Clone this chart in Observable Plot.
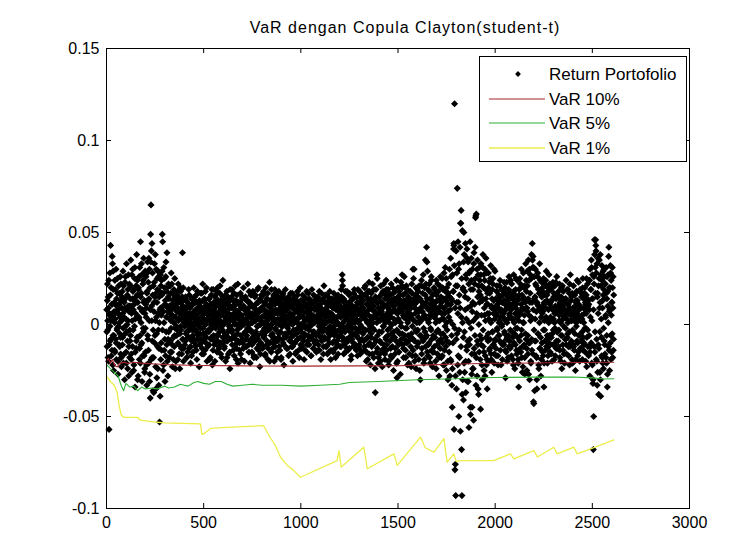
<!DOCTYPE html>
<html>
<head>
<meta charset="utf-8">
<script src="https://cdn.jsdelivr.net/npm/d3@7"></script>
<script src="https://cdn.jsdelivr.net/npm/@observablehq/plot@0.6"></script>
<style>
  body { margin: 0; background: #fff; font-family: "Liberation Sans", Arial, sans-serif; }
  #wrap { position: relative; width: 756px; height: 540px; overflow: hidden; background: #fff; }
  #title { position: absolute; left: 0; top: 19px; width: 810px; text-align: center; font-size: 16px; letter-spacing: 1px; color: #000; line-height: 18px; }
  #legend { position: absolute; left: 479px; top: 56px; width: 206px; height: 104px; border: 1px solid #000; background: #fff; }
  #chart { position: absolute; left: 0; top: 0; }
</style>
</head>
<body>
<div id="wrap">
  <div id="chart"></div>
  <div id="title"></div>
  <div id="legend"></div>
</div>
<script>
// ---- data ----
const titleText = "VaR dengan Copula Clayton(student-t)";
const seriesNames = ["Return Portofolio", "VaR 10%", "VaR 5%", "VaR 1%"];
const seriesColors = ["#000000", "#a3262b", "#2fae37", "#eded4a"];

// portfolio returns in thousandths: odd observations 1,3,5,...
const returnMilliOdd = [
8,-12,22,-3,15,-20,-57,5,28,-9,43,2,-17,11,37,33,-6,19,-25,7,
-14,24,3,-8,30,-19,10,-2,17,-27,6,21,-11,1,-5,26,-16,13,-23,9,
18,-7,29,-21,4,12,-30,23,-1,8,-15,33,-4,16,-24,2,27,-12,10,-18,
-9,21,35,-16,6,-26,14,30,-3,19,-22,11,25,-34,3,15,-13,38,-7,24,
12,-28,20,4,-19,31,-6,45,-11,17,27,-31,8,22,-2,36,-17,13,-24,29,
-15,26,9,-33,18,34,-8,23,-21,14,30,-27,-40,49,65,40,2,-18,28,-36,
21,-37,12,33,-6,38,-23,17,4,-29,25,-12,29,-3,-33,15,-53,8,27,-19,
-10,24,16,49,45,-25,7,31,-14,20,-31,11,26,-4,18,39,-20,9,-8,22,
14,-18,6,21,-9,2,28,-15,11,-23,17,4,-7,19,-12,25,-2,8,-20,13,
-6,16,9,-19,22,3,-11,14,-24,7,18,-3,12,-16,5,39,-8,20,-13,1,
7,-11,3,15,-5,9,-18,2,12,-7,0,19,-13,6,-2,10,-21,4,14,-9,
-3,11,-15,5,20,-8,1,13,-12,8,-4,16,-19,3,9,-6,12,-1,-23,7,
10,-2,17,-10,4,-16,8,22,-5,1,13,-9,6,-14,18,0,-7,11,-20,3,
-12,5,9,-4,14,-19,2,7,-8,16,-1,11,-22,4,19,-6,8,-11,1,15,
6,-9,12,0,-15,20,3,-6,10,-13,7,17,-2,-10,5,13,-18,9,-3,24,
-7,14,1,-12,8,4,-20,11,-5,18,2,-9,15,-16,6,-1,10,-24,13,3,
9,-4,19,-11,2,-7,13,6,-17,10,0,21,-8,4,-13,16,-3,7,-21,12,
-2,11,-14,5,17,-6,1,-19,9,14,-10,3,20,-5,8,-12,2,15,-8,6,
13,-8,4,22,-3,9,-15,0,12,-21,6,16,-4,10,-11,1,18,-7,5,-17,
-5,15,-9,2,11,-18,7,-1,19,-6,12,-14,3,8,-23,14,0,-10,16,4,
8,-13,1,16,-7,5,-2,12,-16,20,-4,7,-11,14,2,-19,10,-3,6,23,
-10,4,13,-6,19,0,-13,8,3,-8,15,-20,6,11,-2,17,-9,1,12,-15,
3,12,-7,18,-12,6,9,-4,14,-18,2,10,-1,16,-10,5,-22,11,7,-5,
19,-6,8,-13,3,14,-2,10,-17,5,12,-9,1,17,-7,4,-12,9,0,-20,
11,-3,6,15,-10,2,-16,8,13,-5,1,18,-8,7,-14,10,-1,4,20,-11,
-4,9,-13,5,16,-7,0,12,-19,3,10,-6,14,-2,7,-15,11,-9,2,17,
6,-11,3,13,-1,8,-17,5,19,-8,2,-4,12,-13,9,1,-10,15,-6,4,
-9,14,2,-5,10,-14,7,18,-3,0,11,-19,5,8,-7,13,-2,6,-12,21,
1,-8,16,4,-12,9,-3,12,-16,7,15,-5,2,-10,18,-1,6,-14,10,-4,
12,-2,5,-15,9,1,-9,14,3,-18,8,11,-6,4,-11,16,0,-7,13,-3,
-6,10,4,-12,15,-1,27,21,-9,7,-16,12,2,-4,18,-10,6,9,-13,3,
8,-14,11,0,-7,17,-3,5,-19,13,1,-8,10,-2,14,-12,4,19,-5,7,
-11,3,15,-6,9,-17,2,12,-4,6,-13,18,0,-9,11,5,-15,8,16,-2,
13,-9,4,20,-14,7,-3,16,-20,2,11,-7,18,-11,5,23,-16,9,-1,14,
-5,17,-12,8,22,-2,10,-18,4,14,-8,-37,6,19,-15,1,25,-6,12,-21,
9,-4,15,-16,3,21,-10,7,12,-23,5,18,-1,-13,10,2,-19,16,-7,24,
-14,6,11,-3,19,-20,8,1,15,-9,4,-17,22,-5,13,-12,7,17,-25,3,
10,-7,18,-13,2,14,-21,-29,6,20,-4,11,-15,8,16,-10,1,23,-8,12,
27,20,-11,5,-18,13,9,-6,17,-14,3,21,-2,10,-22,7,15,-9,4,-16,
6,18,-12,11,-5,22,-17,3,30,-8,14,30,-20,9,16,-3,-24,12,1,19,
-10,15,4,-19,21,8,-6,-30,13,2,24,-13,7,17,-9,11,-21,5,20,-4,
35,-7,12,42,34,-15,9,19,-11,3,22,-18,14,-2,8,26,-14,6,-23,16,
-6,11,20,-12,4,17,-20,9,24,-4,13,-16,2,18,-9,-28,7,21,-13,10,
15,-18,6,25,-10,19,-22,3,28,-14,9,31,-7,13,-25,20,-3,11,-30,17,
22,-15,30,-28,8,36,-20,14,-33,-45,27,-10,18,44,-57,120,-79,-76,-93,40,
-35,28,74,-22,45,12,-50,33,-18,42,-58,55,62,-68,-93,51,-30,20,-41,50,
38,-26,15,44,-37,25,-12,41,-31,9,34,-20,-56,28,-8,45,-49,19,36,-27,
-45,30,12,-24,-52,39,-16,22,42,58,-33,60,6,-28,35,-11,27,-38,18,31,
24,-19,-46,33,-8,21,-30,14,38,-12,27,-25,5,30,-17,19,36,-22,11,-35,
17,-9,28,-20,6,23,-13,2,32,-16,10,-26,19,-4,25,-11,13,-21,8,29,
-8,14,-17,5,21,-3,11,-22,9,16,-6,2,24,-14,7,-10,19,0,-19,12,
4,18,-11,13,-5,20,-29,8,-15,23,1,-7,15,-18,10,26,-9,6,-13,17,
-12,9,22,-4,15,-19,3,27,-10,12,-24,6,19,-2,11,-16,24,-7,14,-21,
-34,16,5,25,-13,20,-6,30,-18,9,14,-23,28,1,-11,21,-27,12,33,-8,
18,-25,29,7,-16,35,-10,24,-30,12,27,-20,4,38,-14,44,31,37,-42,-43,
26,-36,15,30,-9,21,-18,-35,11,28,-5,19,-24,8,33,-13,17,-28,4,23,
-10,20,7,-17,25,-34,12,-3,22,-14,9,29,-8,16,-21,3,18,-12,27,-6,
11,-15,4,19,-7,13,-20,8,23,-3,15,-11,1,21,-17,6,14,-9,26,-13,
-4,16,-12,9,2,22,-18,7,13,-6,20,-24,10,5,-14,18,-1,12,-21,8,
14,-8,24,-16,3,11,-5,19,-12,6,17,-22,9,27,-10,2,15,-19,7,-3,
-11,21,5,-14,16,8,-25,12,1,18,-9,13,-17,4,23,-6,10,-20,19,2,
9,-13,17,3,-19,25,-7,14,-10,6,20,-15,11,-2,16,-23,8,22,-12,13,
-17,24,8,-28,30,-12,19,35,-21,14,27,-32,-68,-50,22,46,-15,31,46,40,
28,-20,-33,17,36,-11,-38,25,9,-26,38,-39,21,-7,32,-18,13,29,-24,19,
-9,26,-16,22,5,31,-21,14,-34,18,27,-12,42,7,-25,20,32,-6,24,-15,
12,31,-18,26,-8
];

// portfolio returns in thousandths: even observations 2,4,6,...
const returnMilliEven = [
-4,13,2,-18,9,24,-11,6,-1,16,-8,20,3,-14,11,-22,29,5,-6,12,
1,-15,19,7,-10,14,-3,25,-20,8,-1,11,17,-12,4,-7,22,-18,2,15,
-11,6,-2,21,13,-16,9,-5,26,3,-21,15,0,-9,19,10,-28,7,22,-3,
14,-6,10,-19,27,2,-12,18,8,-25,13,-1,31,-15,6,21,-9,4,16,-30,
-7,19,3,26,-13,9,-21,15,1,33,-10,7,-17,24,-4,12,28,-26,6,-2,
11,4,-22,17,28,-6,13,-14,36,2,-31,20,8,34,-19,10,44,-9,16,-3,
-18,7,23,-10,15,2,-35,30,-5,12,19,-24,6,26,-13,1,18,-39,9,21,
5,-14,29,-3,17,10,-22,1,25,-8,13,-17,34,4,-11,20,7,-28,15,-4,
-9,10,3,-15,17,-2,8,22,-11,5,13,-19,1,9,-6,15,-24,4,11,-1,
7,-3,18,-10,2,12,-16,6,-5,20,-1,9,-13,3,15,-8,10,-20,5,14,
-1,8,-9,4,13,-4,0,10,-15,6,2,-7,16,-3,9,-12,5,1,-17,11,
4,-6,11,-1,7,15,-10,3,-3,12,-14,5,0,18,-8,2,-5,9,13,-11,
-5,12,1,-8,17,-13,6,-2,9,-16,3,14,-6,0,10,-10,20,-4,7,2,
9,-3,14,-11,2,6,-18,11,0,-7,19,-2,8,-14,5,12,-9,3,-20,16,
-2,10,-6,5,18,-9,1,13,-12,7,-4,21,2,-16,11,-1,6,-10,15,-7,
11,0,-13,8,-5,16,3,-9,12,-18,6,1,-7,14,-3,9,-15,19,-1,4,
-8,15,5,-3,10,-14,2,17,-6,8,-11,4,13,-19,0,7,-5,22,-9,3,
6,-10,1,12,-16,9,-1,5,15,-8,3,-13,10,0,-20,14,-4,8,2,-12,
-6,13,-2,7,0,-11,18,4,-9,11,-3,1,16,-15,6,-7,10,3,-18,9,
2,-9,16,-4,8,5,-13,12,-1,-8,20,3,-11,7,0,-16,13,9,-5,1,
-4,9,-12,18,1,-6,11,-17,4,7,-2,14,-9,0,17,-13,5,-1,10,-20,
7,-2,10,-15,4,12,-5,1,-10,16,-7,3,19,-12,8,-3,13,-18,2,6,
-9,15,0,-5,11,-14,7,3,-19,12,-1,8,-8,17,4,-11,1,14,-6,9,
3,-7,12,-1,8,-13,5,15,-4,0,10,-16,6,-9,13,2,-5,17,-12,4,
-6,11,1,-10,14,-3,7,-15,2,9,-8,16,-2,4,11,-18,6,0,-7,13,
8,-2,-12,6,13,1,-9,10,-5,15,-14,3,7,-1,18,-11,4,9,-6,-1,
-3,14,-8,2,9,-17,11,0,-6,12,5,-13,16,-4,1,8,-10,13,3,-15,
10,-5,4,15,-11,6,-1,-14,12,3,-7,9,17,-9,2,-4,14,-16,7,0,
-7,12,-3,8,1,-12,16,5,-8,10,-2,-15,13,4,-6,11,-19,6,2,14,
4,-10,9,-2,17,-6,3,-13,11,0,-4,15,-9,8,1,-16,12,-3,7,10,
-12,6,13,19,-4,9,24,-7,1,14,-11,5,-2,10,-15,3,12,-8,18,-1,
5,-9,2,16,-13,7,-4,11,0,-17,9,14,-6,3,-10,17,6,-12,1,8,
-2,10,-14,5,12,-7,19,-3,8,-11,2,15,-16,6,-1,9,-8,13,4,-5,
9,-4,16,-12,3,21,-8,6,-15,11,1,-19,14,-3,8,18,-10,2,-22,12,
-7,13,4,-16,10,1,-11,19,-3,7,-24,15,5,-9,12,27,-13,3,9,-18,
6,15,-9,2,-20,12,8,-4,17,-14,10,-1,22,-11,4,-16,14,1,-8,19,
-11,3,18,-6,9,-22,13,5,-2,16,-13,7,11,-18,0,20,-7,10,-4,14,
8,-16,1,12,-9,24,-3,6,-20,15,3,-11,18,-5,9,-27,13,-1,7,21,
-5,11,16,-13,4,26,-8,10,-2,-18,13,6,-10,19,1,-6,12,-21,8,3,
14,-7,9,-23,5,17,-1,12,-14,25,2,-9,11,6,-17,20,-4,8,-12,15,
-3,18,-10,7,1,-25,14,9,-6,21,-16,3,12,-8,27,-2,10,-19,5,16,
-12,22,3,-6,14,29,-17,8,1,-10,18,5,-21,11,-3,24,-8,13,-15,7,
10,-15,4,19,-7,12,1,-24,16,6,-11,22,-3,9,-18,13,2,-9,26,-5,
-8,12,3,-17,20,-5,9,14,-22,6,-1,18,-12,25,1,-9,15,-20,7,11,
4,-10,15,2,-19,11,26,-6,13,-24,0,18,41,43,32,-2,9,-28,21,-8,
12,-5,21,6,-17,30,-3,16,-26,9,55,-12,4,25,-38,1,19,-7,34,-21,
-4,18,8,-20,27,3,-14,36,-9,14,-31,22,1,-11,29,-45,10,-2,24,-16,
7,-24,19,2,33,-13,11,-6,25,59,-18,4,30,-9,15,-35,21,0,-15,12,
-6,16,27,-11,5,-22,13,31,-3,20,-15,9,24,-28,2,14,-7,28,-19,6,
11,-5,20,3,-14,17,-8,25,1,-19,9,14,-4,22,-11,6,30,-16,3,-9,
5,-13,10,18,-2,7,-17,13,-6,1,21,-9,4,15,-22,8,-1,12,-11,16,
-10,6,23,-4,11,-14,2,17,-8,9,-20,13,3,-6,19,-12,5,11,-3,24,
8,-17,3,14,-7,10,-22,18,1,-5,16,-11,9,25,-14,4,-2,13,-19,7,
2,19,-9,6,22,-15,11,-3,16,-26,8,1,-12,20,5,-18,14,-5,9,24,
-13,9,21,-6,14,-27,5,30,-10,17,2,-21,25,-8,12,35,-16,8,31,-3,
14,-9,3,22,-17,7,-30,12,26,-5,10,-22,17,1,-13,24,-7,9,-19,15,
6,-15,18,-3,11,-21,2,16,-9,24,4,-12,13,-6,20,-17,8,1,-10,22,
-7,12,2,-16,9,20,-5,14,-11,3,17,-19,6,-2,10,23,-13,7,-4,16,
10,-9,18,-3,5,-14,12,1,-20,15,7,-6,21,-11,3,9,-16,13,4,-8,
-2,14,-11,6,19,-7,1,11,-17,8,-4,22,-12,5,13,-9,2,17,-21,9,
7,-12,3,16,-5,10,-19,13,-1,6,24,-10,2,-15,11,8,-6,18,-13,4,
-9,15,5,-4,20,-14,9,1,-11,17,-2,12,-20,6,25,-7,14,-3,10,-16,
11,-6,24,-15,4,19,-10,31,2,-22,14,-30,8,26,-12,38,-4,17,43,-19,
-8,33,15,-26,6,21,-13,35,-4,12,-30,27,3,-17,24,9,-21,16,-2,30,
14,-11,22,4,-18,17,-6,26,-27,10,1,37,-14,20,8,-10,28,-19,5,12,
-5,20,9,-14,16
];

// VaR curves: observation index and value at each visible knot
const var10Idx = [1,10,20,30,45,55,70,90,110,140,180,230,310,480,700,1000,1300,1500,1700,1800,2000,2300,2610];
const var10Val = [-0.0196,-0.0185,-0.021,-0.019,-0.0225,-0.023,-0.021,-0.0205,-0.0212,-0.0205,-0.021,-0.0213,-0.0218,-0.0223,-0.0225,-0.0226,-0.0225,-0.0224,-0.0218,-0.0215,-0.0211,-0.0208,-0.0205];

const var5Idx = [1,20,40,60,75,88,100,120,140,160,180,200,230,260,300,320,350,380,400,420,450,470,500,530,560,590,620,650,700,750,800,900,1000,1100,1200,1250,1400,1600,1800,1900,2000,2200,2400,2500,2560,2610];
const var5Val = [-0.022,-0.024,-0.026,-0.028,-0.033,-0.036,-0.032,-0.034,-0.0335,-0.036,-0.034,-0.035,-0.0345,-0.035,-0.0335,-0.0345,-0.034,-0.0325,-0.033,-0.0335,-0.0315,-0.031,-0.032,-0.0325,-0.031,-0.031,-0.0325,-0.0335,-0.033,-0.0325,-0.033,-0.033,-0.0335,-0.033,-0.0325,-0.0315,-0.031,-0.030,-0.0295,-0.029,-0.0288,-0.0286,-0.0285,-0.029,-0.0296,-0.0295];

const var1Idx = [1,20,40,55,65,75,90,160,175,250,300,484,490,500,535,600,700,808,840,870,895,930,960,998,1187,1196,1208,1324,1342,1479,1496,1616,1640,1685,1736,1753,1787,1800,1822,1993,2079,2096,2199,2217,2302,2319,2405,2422,2491,2611];
const var1Val = [-0.028,-0.031,-0.033,-0.037,-0.044,-0.049,-0.0505,-0.0505,-0.052,-0.053,-0.0535,-0.054,-0.0595,-0.0595,-0.0565,-0.056,-0.0555,-0.055,-0.061,-0.066,-0.072,-0.0766,-0.079,-0.083,-0.074,-0.0685,-0.0775,-0.0667,-0.0784,-0.0703,-0.0766,-0.0612,-0.067,-0.0694,-0.062,-0.0748,-0.0703,-0.0745,-0.074,-0.074,-0.0703,-0.073,-0.0685,-0.072,-0.0667,-0.0703,-0.0667,-0.0703,-0.0676,-0.0627];

const xTicks = [0, 500, 1000, 1500, 2000, 2500, 3000];
const xTickLabels = ["0", "500", "1000", "1500", "2000", "2500", "3000"];
const yTicks = [-0.1, -0.05, 0, 0.05, 0.1, 0.15];
const yTickLabels = ["-0.1", "-0.05", "0", "0.05", "0.1", "0.15"];

// ---- tables built from the arrays ----
const returns = [
  ...returnMilliOdd.map((v, i) => ({ x: 1 + 2 * i, y: v / 1000 })),
  ...returnMilliEven.map((v, i) => ({ x: 2 + 2 * i, y: v / 1000 }))
];
const toRows = (idx, val) => idx.map((x, i) => ({ x, y: val[i] }));
const var10 = toRows(var10Idx, var10Val);
const var5 = toRows(var5Idx, var5Val);
const var1 = toRows(var1Idx, var1Val);

const W = 756, H = 540;
const mL = 106, mR = 67, mT = 48, mB = 32;
const innerW = W - mL - mR, innerH = H - mT - mB;
const tick = 5;

const chart = Plot.plot({
  width: W, height: H,
  marginLeft: mL, marginRight: mR, marginTop: mT, marginBottom: mB,
  x: { domain: [0, 3000], label: null },
  y: { domain: [-0.1, 0.15], label: null },
  style: { fontFamily: "'Liberation Sans', Arial, sans-serif", fontSize: "16px", background: "#fff", color: "#000", overflow: "visible" },
  marks: [
    Plot.dot(returns, { x: "x", y: "y", symbol: "diamond2", r: 3.2, fill: seriesColors[0], stroke: "none" }),
    Plot.line(var10, { x: "x", y: "y", stroke: seriesColors[1], strokeWidth: 1.1 }),
    Plot.line(var5, { x: "x", y: "y", stroke: seriesColors[2], strokeWidth: 1.1 }),
    Plot.line(var1, { x: "x", y: "y", stroke: seriesColors[3], strokeWidth: 1.3 }),
    Plot.frame({ stroke: "#000", strokeWidth: 1 }),
    Plot.ruleX(xTicks, { x: d => d, insetTop: innerH - tick, stroke: "#000" }),
    Plot.ruleX(xTicks, { x: d => d, insetBottom: innerH - tick, stroke: "#000" }),
    Plot.ruleY(yTicks, { y: d => d, insetRight: innerW - tick, stroke: "#000" }),
    Plot.ruleY(yTicks, { y: d => d, insetLeft: innerW - tick, stroke: "#000" }),
    Plot.axisX(xTicks, { tickSize: 0, tickPadding: 8, label: null, tickFormat: d => xTickLabels[xTicks.indexOf(d)], fill: "#000" }),
    Plot.axisY(yTicks, { tickSize: 0, tickPadding: 7, label: null, tickFormat: d => yTickLabels[yTicks.indexOf(d)], fill: "#000" })
  ]
});
document.getElementById("chart").appendChild(chart);
document.getElementById("title").textContent = titleText;

// ---- legend ----
const lg = d3.select("#legend").append("svg").attr("width", 206).attr("height", 104)
  .style("position", "absolute").style("left", "0px").style("top", "0px");
const rowY = [17, 42, 66, 91];
seriesNames.forEach((name, i) => {
  if (i === 0) {
    const r = 2.6;
    lg.append("path")
      .attr("d", d3.symbol(d3.symbolDiamond2, Math.PI * r * r)())
      .attr("transform", `translate(38,${rowY[i]})`)
      .attr("fill", seriesColors[0]);
  } else {
    lg.append("line").attr("x1", 9).attr("x2", 65).attr("y1", rowY[i]).attr("y2", rowY[i])
      .attr("stroke", seriesColors[i]).attr("stroke-width", i === 3 ? 1.3 : 1.1);
  }
  lg.append("text").attr("x", 69).attr("y", rowY[i]).attr("dy", "0.35em")
    .attr("font-family", "'Liberation Sans', Arial, sans-serif").attr("font-size", 17)
    .attr("fill", "#000").text(name);
});
</script>
</body>
</html>
